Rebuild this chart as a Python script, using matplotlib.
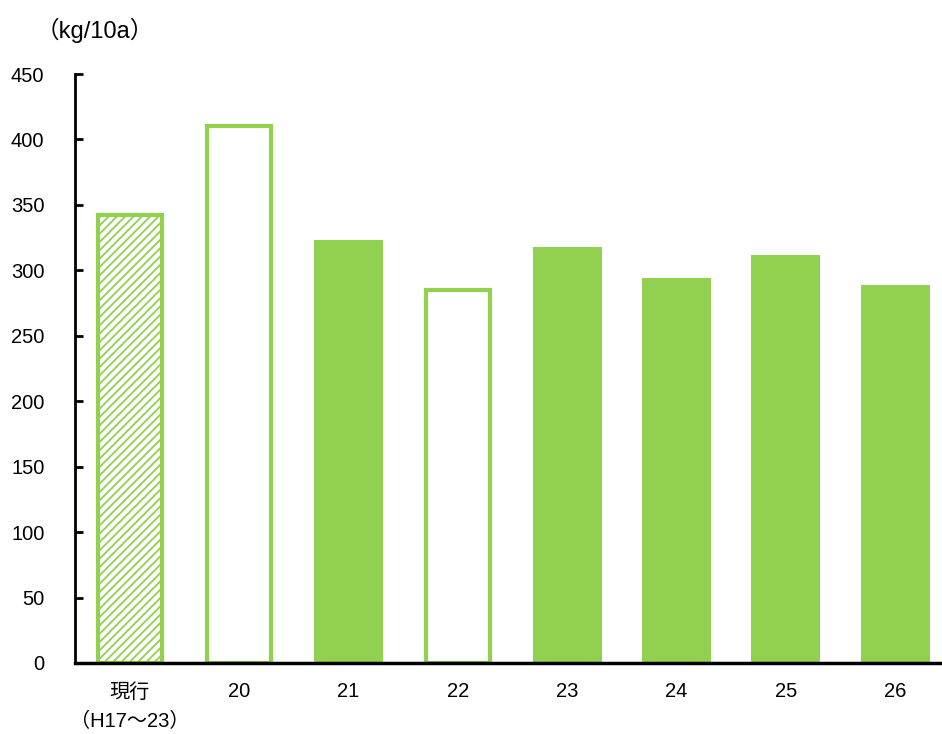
import numpy as np
import matplotlib
matplotlib.use("Agg")
from matplotlib import pyplot as plt

plt.rcParams['font.family'] = ['Liberation Sans', 'Noto Sans CJK JP', 'DejaVu Sans']
plt.rcParams['hatch.linewidth'] = 1.3

categories = ['現行\n（H17～23）', '20', '21', '22', '23', '24', '25', '26']
values = [342, 410, 323, 285, 318, 294, 312, 289]
styles = ['hatch', 'hollow', 'solid', 'hollow', 'solid', 'solid', 'solid', 'solid']

green = '#92D050'

fig = plt.figure(figsize=(9.42, 7.34), dpi=100)
ax = fig.add_axes([75/942, 71/734, 865/942, 589/734])

ind = np.arange(len(categories))
for i, (v, s) in enumerate(zip(values, styles)):
    if s == 'solid':
        ax.bar(ind[i], v, 0.63, color=green, edgecolor=green, linewidth=0)
    elif s == 'hollow':
        ax.bar(ind[i], v, 0.585, color='white', edgecolor=green, linewidth=3)
    else:
        ax.bar(ind[i], v, 0.585, color='white', edgecolor=green, linewidth=3, hatch='////')

ax.set_xlim(-0.503, 7.41)
ax.set_ylim(0, 450)
ax.set_yticks(np.arange(0, 451, 50))
ax.set_xticks(ind)
ax.set_xticklabels(categories, fontsize=14.5, linespacing=1.7)
ax.tick_params(axis='x', length=0, pad=14)
ax.tick_params(axis='y', direction='in', length=6, width=2, labelsize=14.5, pad=22)
ax.spines['top'].set_visible(False)
ax.spines['right'].set_visible(False)
ax.spines['left'].set_linewidth(2)
ax.spines['bottom'].set_linewidth(2.5)

fig.text(36/942, 1 - 30/734, '（kg/10a）', fontsize=17, va='center', ha='left')

fig.savefig('out.png', dpi=100)
